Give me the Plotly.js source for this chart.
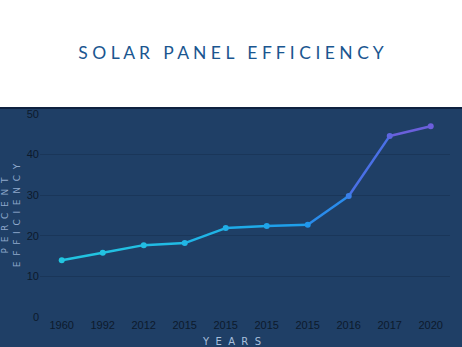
<!DOCTYPE html>
<html>
<head>
<meta charset="utf-8">
<script src="https://cdn.plot.ly/plotly-3.0.1.min.js"></script>
<style>html,body{margin:0;padding:0;background:#fff;}#chart{width:462px;height:347px;}</style>
</head>
<body>
<div id="chart"></div>
<script>
const years = ["1960","1992","2012","2015","2015","2015","2015","2016","2017","2020"];
const efficiency = [14.0, 15.8, 17.7, 18.2, 21.9, 22.4, 22.7, 29.8, 44.6, 47.0];
const segmentColors = ["#22c3e0","#22c0e2","#21bbe4","#20b4e6","#1fabe8","#1f9fea","#2a8cec","#4a70e6","#6a60dc"];
const pointColors = ["#22c5e0","#22c2e1","#22bde3","#21b6e5","#20aee7","#1fa4e9","#2096eb","#3a80ea","#5e66e0","#6c5edc"];

const idx = years.map((_, i) => i);
const traces = [];
for (let i = 0; i < efficiency.length - 1; i++) {
  traces.push({
    x: [idx[i], idx[i+1]],
    y: [efficiency[i], efficiency[i+1]],
    mode: "lines",
    line: {color: segmentColors[i], width: 2.5},
    hoverinfo: "skip",
    showlegend: false
  });
}
traces.push({
  x: idx, y: efficiency, mode: "markers",
  marker: {color: pointColors, size: 6},
  showlegend: false
});

const layout = {
  width: 462, height: 347,
  margin: {l: 40, r: 12, t: 114, b: 30},
  paper_bgcolor: "#ffffff",
  plot_bgcolor: "rgba(0,0,0,0)",
  title: {
    text: "S O L A R   P A N E L   E F F I C I E N C Y",
    font: {family: "Lato, sans-serif", size: 17.5, color: "#1a5690", weight: 400},
    x: 0.5, xanchor: "center", y: 1 - 53/347, yanchor: "middle", yref: "container"
  },
  shapes: [
    {type: "rect", xref: "paper", yref: "paper", x0: -0.2, x1: 1.2, y0: -0.5, y1: (317-108)/203,
     fillcolor: "#1f3f66", line: {width: 0}, layer: "below"},
    {type: "line", xref: "paper", yref: "paper", x0: -0.2, x1: 1.2, y0: (317-108)/203, y1: (317-108)/203,
     line: {color: "#0e2140", width: 2}, layer: "below"}
  ],
  annotations: [
    {text: "Y  E  A  R  S", xref: "paper", yref: "paper", x: (231-40)/410, y: (317-341)/203,
     xanchor: "center", yanchor: "middle", showarrow: false,
     font: {family: "DejaVu Sans, sans-serif", size: 10, color: "#a9bfdc"}}
  ],
  xaxis: {
    tickmode: "array", tickvals: idx, ticktext: years,
    range: [-0.53, 9.47],
    showgrid: false, zeroline: false, showline: false,
    tickfont: {family: "Liberation Sans, Arial, sans-serif", size: 11, color: "#0d1a2c"}
  },
  yaxis: {
    range: [0, 50], tickvals: [0,10,20,30,40,50],
    showgrid: true, gridcolor: "#1a3659", gridwidth: 1,
    zeroline: false, showline: false,
    tickfont: {family: "Liberation Sans, Arial, sans-serif", size: 11, color: "#0d1a2c"},
    title: {text: "P  E  R  C  E  N  T<br>E  F  F  I  C  I  E  N  C  Y", font: {family: "DejaVu Sans, sans-serif", size: 9, color: "#8fa9cc"}, standoff: 4}
  }
};
Plotly.newPlot("chart", traces, layout, {displayModeBar: false, staticPlot: true});
</script>
</body>
</html>
